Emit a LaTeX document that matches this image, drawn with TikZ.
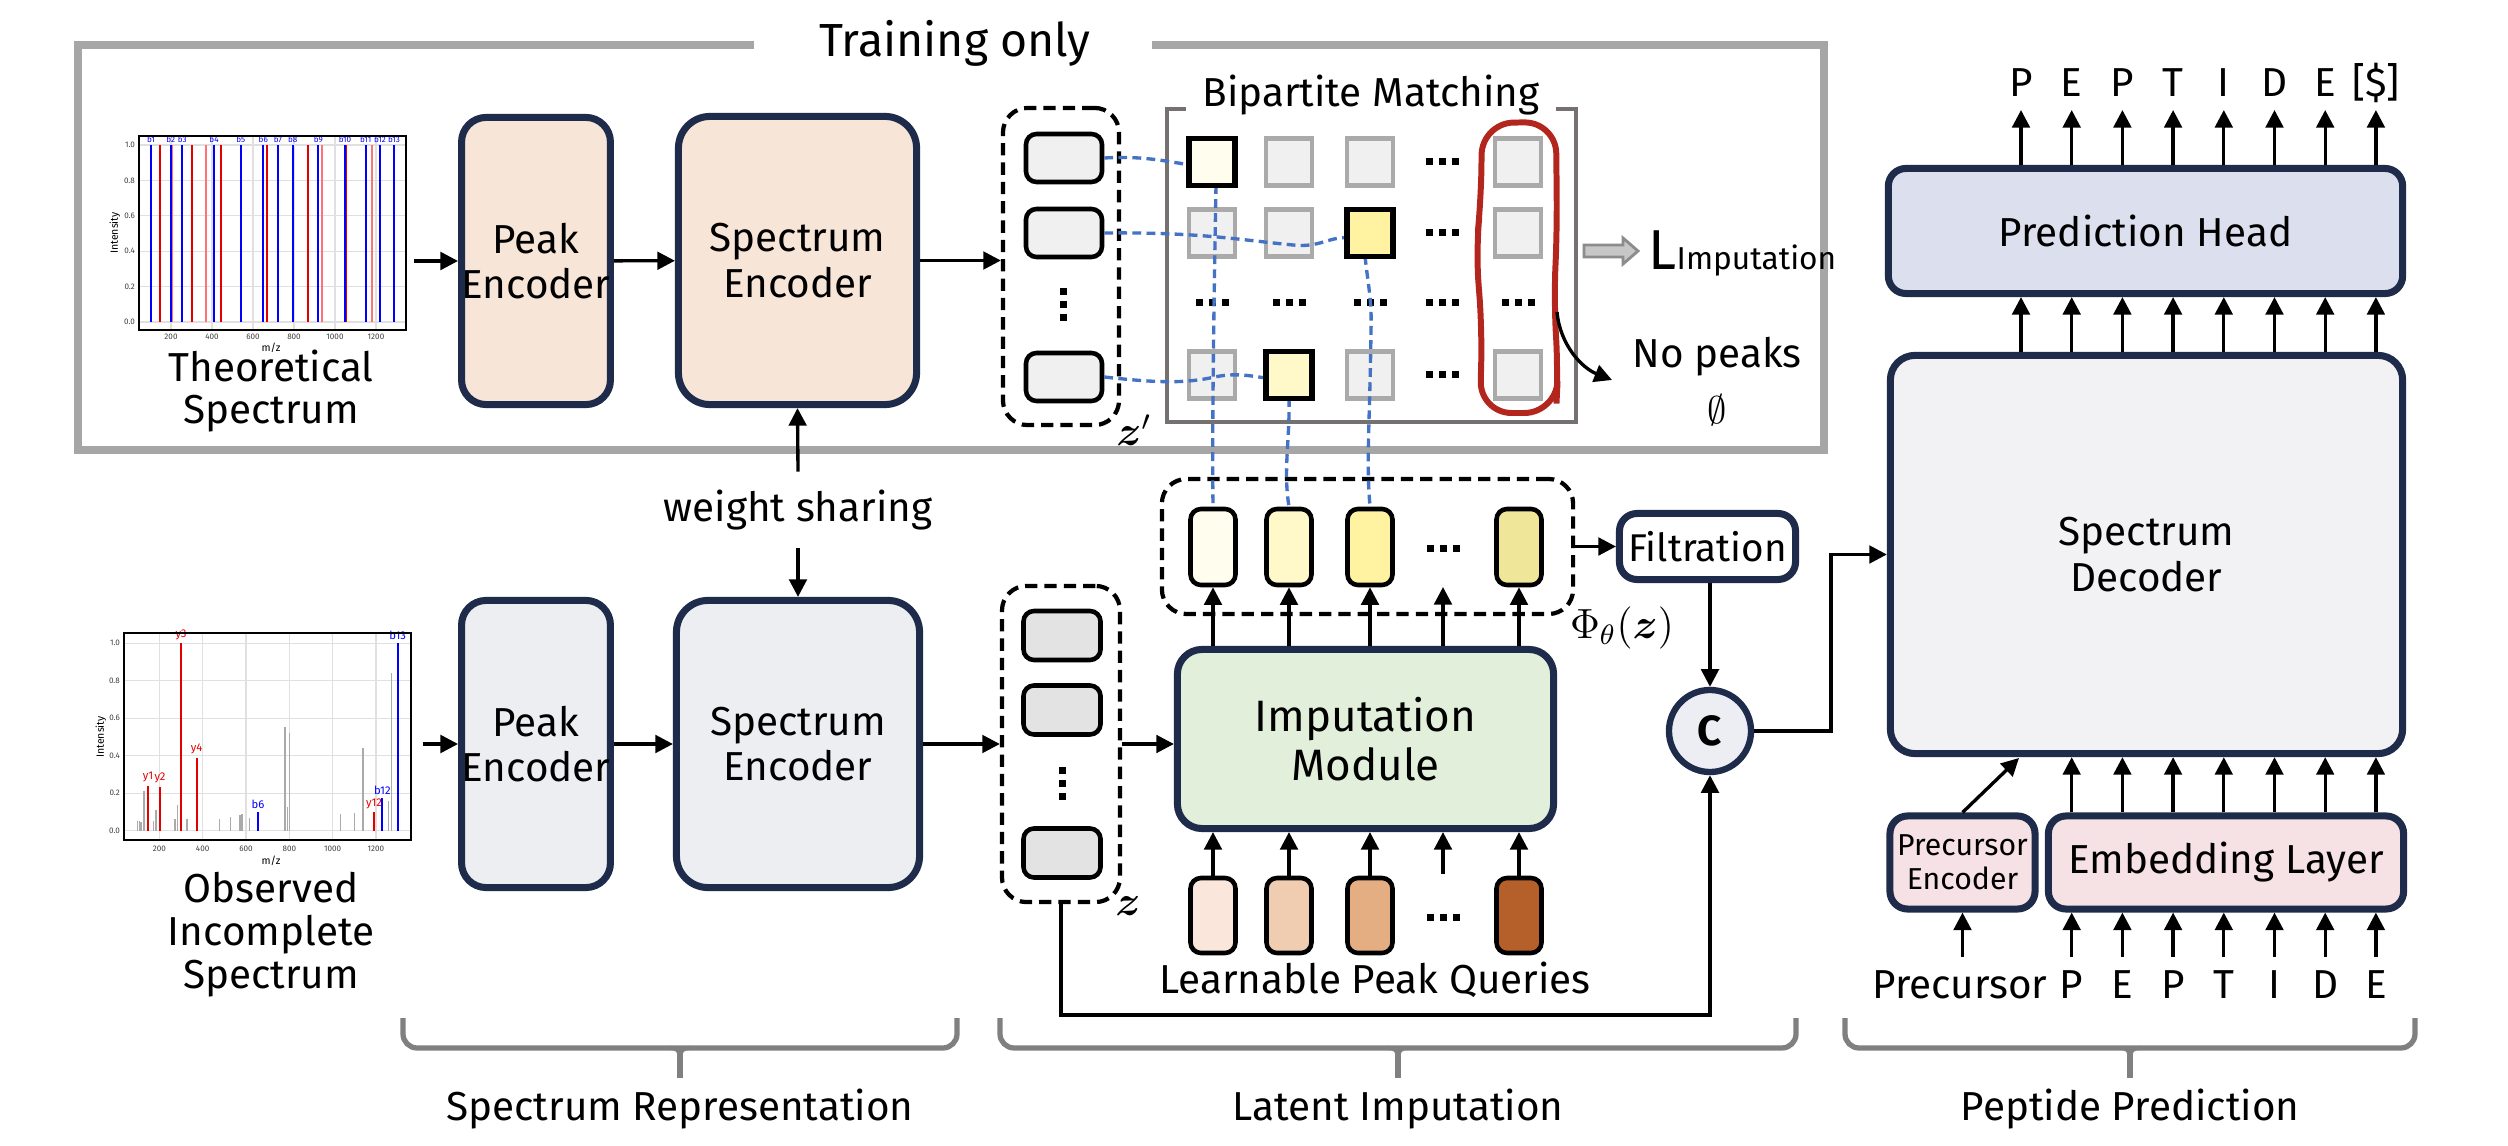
\documentclass[tikz,border=0pt]{standalone}
\usepackage{fontspec}
\setmainfont{Fira Sans}
\usepackage{amsmath}
\usetikzlibrary{arrows.meta}

\definecolor{navy}{HTML}{1F2B4A}
\definecolor{trainGray}{HTML}{A6A6A6}
\definecolor{bracketGray}{HTML}{767171}
\definecolor{braceGray}{HTML}{808080}
\definecolor{peach}{HTML}{F7E5D8}
\definecolor{slate}{HTML}{ECEEF2}
\definecolor{mint}{HTML}{E2EFDA}
\definecolor{decFill}{HTML}{F2F2F5}
\definecolor{headFill}{HTML}{DCDFEE}
\definecolor{rose}{HTML}{F6E1E4}
\definecolor{cFill}{HTML}{ECEEF4}
\definecolor{zTop}{HTML}{F0F0F0}
\definecolor{zBot}{HTML}{E3E3E3}
\definecolor{sqGray}{HTML}{F0F0F0}
\definecolor{sqEdge}{HTML}{AAAAAA}
\definecolor{linkBlue}{HTML}{4472C4}
\definecolor{outRed}{HTML}{B3261E}
\definecolor{phiA}{HTML}{FFFDEE}
\definecolor{phiB}{HTML}{FFF8C8}
\definecolor{phiC}{HTML}{FFF2A0}
\definecolor{phiD}{HTML}{F0E69A}
\definecolor{qA}{HTML}{FAE6DA}
\definecolor{qB}{HTML}{F0CDB0}
\definecolor{qC}{HTML}{E5AE82}
\definecolor{qD}{HTML}{B5602B}
\definecolor{specGray}{HTML}{AAAAAA}

\newcommand\mainsize{\fontsize{11.5}{13}\selectfont}
\newcommand\capsize{\fontsize{11.5}{12.2}\selectfont}
\newcommand\titlesize{\fontsize{13.2}{15}\selectfont}
\newcommand\impsize{\fontsize{12.5}{14}\selectfont}
\newcommand\precsize{\fontsize{8.6}{9.6}\selectfont}
\newcommand\mathsize{\fontsize{12}{14}\selectfont}
\newcommand\ticksize{\fontsize{2.3}{2.5}\selectfont}
\newcommand\axsize{\fontsize{3}{3.2}\selectfont}
\newcommand\ionsize{\fontsize{3.2}{3.4}\selectfont}

\tikzset{
  >={Triangle[length=5pt,width=5pt]},
  arr/.style={->, line width=0.95pt},
  blk/.style={draw=navy, line width=2pt, rounded corners=7pt, align=center, inner sep=0pt, font=\mainsize},
  vec/.style={draw=black, line width=1.3pt, rounded corners=3pt, inner sep=0pt},
  grp/.style={draw=black, line width=1.2pt, dash pattern=on 3.5pt off 2pt, rounded corners=7pt, inner sep=0pt},
  sq/.style={draw=sqEdge, line width=1.3pt, fill=sqGray, minimum width=0.46cm, minimum height=0.47cm, inner sep=0pt},
  link/.style={draw=linkBlue, line width=0.95pt, dash pattern=on 2.5pt off 1.5pt},
  trainframe/.style={draw=trainGray, line width=2.3pt},
  bracket/.style={draw=bracketGray, line width=1.3pt},
  phasebrace/.style={draw=braceGray, line width=1.5pt, rounded corners=4pt},
  gridln/.style={draw=black!12, line width=0.35pt},
  ticklbl/.style={font=\ticksize, inner sep=0.4pt, text=black!75},
  ionlbl/.style={font=\ionsize, inner sep=0.3pt, anchor=south},
  tok/.style={anchor=base, font=\mainsize, inner sep=3.5pt, text depth=0pt},
  hdots/.pic={\foreach \d in {-13,0,13} \fill (\d-3.5,-3.5) rectangle ++(7,7);},
  vdots/.pic={\foreach \d in {-13,0,13} \fill (-3.5,\d-3.5) rectangle ++(7,7);},
}

\begin{document}
\begin{tikzpicture}[x=0.01cm, y=-0.01cm]
\useasboundingbox (0,0) rectangle (2508,1146);

% training only frame
\draw[trainframe] (754,45) -- (78,45) -- (78,450) -- (1824,450) -- (1824,45) -- (1152,45);
\node[anchor=base, font=\titlesize] (train) at (955,57) {Training only};

% theoretical spectrum
\foreach \k in {0,...,5} \draw[gridln] (139,{322-35.4*\k}) -- (406,{322-35.4*\k});
\foreach \x in {171,212,253,294,335,376} \draw[gridln] (\x,136) -- (\x,330);
\foreach \x in {160,191.7,220.7,267.3,308,346} \draw[line width=0.5pt, red!90!black] (\x,322) -- (\x,145);
\foreach \x in {171.7,206,241.3,293.3,322.3,372} \draw[line width=0.6pt, red!55] (\x,322) -- (\x,145);
\foreach \x/\t in {151/b1,170.7/b2,182.3/b3,214/b4,240.7/b5,263.3/b6,278/b7,292.7/b8,318.3/b9,345/b10,365.7/b11,380/b12,394/b13}
  {\draw[line width=0.5pt, blue] (\x,322) -- (\x,145);
   \node[ticklbl, text=blue] (th\t) at (\x,140) {\t};}
\node[draw=black, line width=0.5pt, minimum width=2.67cm, minimum height=1.94cm, inner sep=0pt] (thPlot) at (272.5,233) {};
\foreach \k/\t in {0/0.0,1/0.2,2/0.4,3/0.6,4/0.8,5/1.0}
  \node[ticklbl, anchor=east] (thy\k) at (137,{322-35.4*\k}) {\t};
\foreach \x/\t in {171/200,212/400,253/600,294/800,335/1000,376/1200}
  \node[ticklbl] (thx\t) at (\x,337) {\t};
\node[font=\axsize, rotate=90] (thInt) at (115,233) {Intensity};
\node[font=\axsize] (thMz) at (271,348) {m/z};
\node[align=center, font=\capsize] (thCap) at (271,391) {Theoretical\\Spectrum};

% observed spectrum
\foreach \k in {0,...,5} \draw[gridln] (124,{830.7-37.48*\k}) -- (411,{830.7-37.48*\k});
\foreach \k in {0,...,5} \draw[gridln] ({159.3+43.33*\k},633) -- ({159.3+43.33*\k},840);
\foreach \x/\h in {137.7/.05,139.3/.05,141/.045,144/.21,153.3/.05,156/.11,175/.06,177.3/.135,187/.065,219.7/.06,230.3/.075,240/.085,242/.09,249.3/.07,285/.555,287.7/.125,289.7/.52,340.7/.09,354.7/.095,363/.44,388.3/.16,391.7/.84}
  \draw[line width=0.45pt, specGray] (\x,830.7) -- (\x,{830.7-187.4*\h});
\foreach \x/\h/\t in {148/.24/y1,160/.235/y2,181/1/y3,196.7/.39/y4,374/.10/y12}
  {\draw[line width=0.6pt, red!90!black] (\x,830.7) -- (\x,{830.7-187.4*\h});
   \node[ionlbl, text=red!90!black] (ob\t) at (\x,{829-187.4*\h}) {\t};}
\foreach \x/\h/\t in {258/.10/b6,382.3/.175/b12,397.7/1/b13}
  {\draw[line width=0.6pt, blue] (\x,830.7) -- (\x,{830.7-187.4*\h});
   \node[ionlbl, text=blue] (ob\t) at (\x,{829-187.4*\h}) {\t};}
\node[draw=black, line width=0.5pt, minimum width=2.87cm, minimum height=2.07cm, inner sep=0pt] (obPlot) at (267.5,736.5) {};
\foreach \k/\t in {0/0.0,1/0.2,2/0.4,3/0.6,4/0.8,5/1.0}
  \node[ticklbl, anchor=east] (oby\k) at (122,{830.7-37.48*\k}) {\t};
\foreach \k/\t in {0/200,1/400,2/600,3/800,4/1000,5/1200}
  \node[ticklbl] (obx\t) at ({159.3+43.33*\k},849) {\t};
\node[font=\axsize, rotate=90] (obInt) at (101,737) {Intensity};
\node[font=\axsize] (obMz) at (271,861) {m/z};
\node[align=center, font=\capsize] (obCap) at (271,934.5) {Observed\\Incomplete\\Spectrum};

% encoders
\node[blk, fill=peach, minimum width=1.47cm, minimum height=2.87cm] (pe1) at (536,261) {Peak\\Encoder};
\node[blk, fill=peach, minimum width=2.38cm, minimum height=2.88cm, rounded corners=9pt] (se1) at (797.5,260.5) {Spectrum\\Encoder};
\node[blk, fill=slate, minimum width=1.48cm, minimum height=2.87cm] (pe2) at (536,744) {Peak\\Encoder};
\node[blk, fill=slate, minimum width=2.43cm, minimum height=2.87cm, rounded corners=9pt] (se2) at (798,744) {Spectrum\\Encoder};
\node[font=\mainsize, inner sep=5pt] (ws) at (798,510) {weight sharing};
\draw[arr] (ws.north) -- (se1.south);
\draw[arr] (ws.south) -- (se2.north);

% latent groups z' and z
\node[grp, minimum width=1.16cm, minimum height=3.17cm] (zpBox) at (1061,266.5) {};
\foreach \i/\y in {1/158,2/233,3/377}
  \node[vec, fill=zTop, minimum width=0.76cm, minimum height=0.48cm] (zp\i) at (1064,\y) {};
\pic at (1063,305) {vdots};
\node[font=\mathsize] (zpLbl) at (1134,430) {$\boldsymbol{z}'$};

\node[grp, minimum width=1.18cm, minimum height=3.16cm] (zBox) at (1061,744) {};
\foreach \i/\y in {1/635.5,2/710,3/853}
  \node[vec, fill=zBot, minimum width=0.77cm, minimum height=0.49cm] (z\i) at (1062,\y) {};
\pic at (1062,783) {vdots};
\node[font=\mathsize] (zLbl) at (1128,906) {$\boldsymbol{z}$};

\draw[arr, shorten <=2pt] (thPlot.east |- pe1) -- (pe1);
\draw[arr] (pe1) -- (se1);
\draw[arr] (se1.east) -- (se1.east -| zpBox.west);
\draw[arr, shorten <=3pt] (obPlot.east |- pe2) -- (pe2);
\draw[arr] (pe2) -- (se2);
\draw[arr] (se2) -- (zBox);

% bipartite matching
\draw[bracket] (1186,109) -- (1167,109) -- (1167,422) -- (1576,422) -- (1576,109) -- (1556,109);
\node[anchor=base, font=\mainsize] (bipTitle) at (1371,107) {Bipartite Matching};
\foreach \r/\y in {1/162,2/233,4/375}
  \foreach \c/\x in {1/1212,2/1289,3/1370,5/1518}
    \node[sq] (s\r\c) at (\x,\y) {};
\foreach \y in {162,233,375} \pic at (1442,\y) {hdots};
\foreach \x in {1212,1289,1370,1442,1518} \pic at (\x,303) {hdots};
\draw[outRed, line width=1.7pt, rounded corners=9pt] (1481,200) -- (1482,123) -- (1556,122) -- (1557,230)
  -- (1554,300) -- (1558,372) -- (1556,413) -- (1480,413) -- (1482,330) -- (1476,250) -- cycle;

% Phi group
\node[grp, minimum width=4.11cm, minimum height=1.35cm] (phiBox) at (1367.5,546.5) {};
\foreach \i/\x/\c in {1/1213/phiA,2/1289/phiB,3/1370/phiC,4/1519/phiD}
  \node[vec, fill=\c, minimum width=0.45cm, minimum height=0.76cm] (phi\i) at (\x,547) {};
\pic at (1443,549) {hdots};
\coordinate (phiDots) at (1443,587);
\node[font=\mathsize] (phiLbl) at (1622,628) {$\Phi_\theta(\boldsymbol{z})$};

% matching links
\draw[link] (zp1.east) .. controls (1140,156) and (1160,160) .. (1190,165);
\draw[link] (zp2.east) .. controls (1200,232) and (1240,240) .. (1293,245) .. controls (1320,248) and (1330,236) .. (1348,238);
\draw[link] (zp3.east) .. controls (1150,382) and (1180,384) .. (1210,378) .. controls (1235,372) and (1250,376) .. (1266,378);
\draw[link] (1216,185) .. controls (1214,300) and (1212,420) .. (phi1.north);
\draw[link] (1289,398) .. controls (1290,440) and (1283,470) .. (phi2.north);
\draw[link] (1365,256) .. controls (1368,285) and (1372,300) .. (1371,330) .. controls (1370,420) and (1366,460) .. (phi3.north);
\node[sq, draw=black, line width=1.5pt, fill=phiA] (m11) at (1212,162) {};
\node[sq, draw=black, line width=1.5pt, fill=phiC] (m23) at (1370,233) {};
\node[sq, draw=black, line width=1.5pt, fill=phiB] (m42) at (1289,375) {};

% loss and unmatched
\draw[fill=black!22, draw=black!45, line width=0.8pt] (1584,245) -- (1623,245) -- (1623,238) -- (1638,251)
  -- (1623,264) -- (1623,257) -- (1584,257) -- cycle;
\node[anchor=base west, inner sep=0pt] (loss) at (1648,270) {{\fontsize{16}{16}\selectfont L}{\fontsize{9}{10}\selectfont Imputation}};
\node[anchor=base, font=\mainsize, inner sep=0pt] (nopk) at (1717,368) {No peaks};
\node[anchor=base, font=\fontsize{11}{11}\selectfont, inner sep=0pt] (empty) at (1717,424) {$\emptyset$};
\coordinate (redOut) at (1557,312);
\coordinate (nopkIn) at (1612,380);
\draw[arr] (redOut) .. controls (1560,345) and (1582,368) .. (nopkIn);

% imputation module
\node[blk, fill=mint, minimum width=3.76cm, minimum height=1.79cm, font=\impsize] (imp) at (1365.5,739) {Imputation\\Module};
\foreach \i/\x/\c in {1/1213/qA,2/1289/qB,3/1370/qC,4/1519/qD}
  \node[vec, fill=\c, minimum width=0.45cm, minimum height=0.75cm] (q\i) at (\x,915.5) {};
\pic at (1443,917) {hdots};
\coordinate (qDots) at (1443,874);
\node[anchor=base, font=\mainsize] (qLbl) at (1375,993) {Learnable Peak Queries};
\foreach \n in {phi1,phi2,phi3,phiDots,phi4} \draw[arr] (imp.north -| \n) -- (\n.south);
\foreach \n in {q1,q2,q3,qDots,q4} \draw[arr] (\n.north) -- (imp.south -| \n);
\draw[arr] (zBox.east) -- (zBox.east -| imp.west);

% filtration and concat
\node[blk, fill=white, minimum width=1.76cm, minimum height=0.66cm, rounded corners=5pt, font=\fontsize{11}{12}\selectfont] (filt) at (1707.5,546.5) {Filtration};
\draw[arr] (phiBox.east) -- (filt.west);
\node[circle, draw=navy, line width=1.8pt, fill=cFill, minimum size=0.82cm, inner sep=0pt, font=\fontsize{12}{12}\selectfont\bfseries] (cc) at (1710,731) {C};
\draw[arr] (filt.south -| cc) -- (cc.north);
\coordinate (zLow) at (1061,1015);
\draw[arr] (zBox.south) -- (zLow) -| (cc.south);

% peptide prediction
\node[blk, fill=decFill, minimum width=5.12cm, minimum height=3.98cm] (dec) at (2146.5,554.5) {Spectrum\\Decoder};
\node[blk, fill=headFill, minimum width=5.14cm, minimum height=1.25cm, rounded corners=5pt] (head) at (2145.5,231) {Prediction Head};
\node[blk, fill=rose, minimum width=1.45cm, minimum height=0.93cm, rounded corners=5pt, font=\precsize] (pre) at (1962.5,862.5) {Precursor\\Encoder};
\node[blk, fill=rose, minimum width=3.55cm, minimum height=0.93cm, rounded corners=5pt] (emb) at (2226,862.5) {Embedding Layer};
\coordinate (decBend) at (1831,554.5);
\draw[arr] (cc.east) -| (decBend) -- (dec.west);

\foreach \t [count=\i] in {P,E,P,T,I,D,E,{[\$]}}
  \node[tok] (out\i) at ({2021+50.7*(\i-1)},97) {\t};
\foreach \i in {1,...,8}
  {\draw[arr] (dec.north -| out\i) -- (head.south -| out\i);
   \draw[arr] (head.north -| out\i) -- (out\i.south);}
\foreach \t [count=\i from 2] in {P,E,P,T,I,D,E}
  \node[tok] (in\i) at ({2021+50.7*(\i-1)},998) {\t};
\foreach \i in {2,...,8}
  {\draw[arr] (in\i.north) -- (emb.south -| in\i);
   \draw[arr] (emb.north -| in\i) -- (dec.south -| in\i);}
\node[tok] (precIn) at (1960,998) {Precursor};
\draw[arr] (pre.south |- precIn.north) -- (pre.south);
\coordinate (decIn) at (2019,758);
\draw[arr] (pre.north) -- (decIn);

% stage braces
\foreach \l/\m/\r/\t in {403/680/957/Spectrum Representation,1000/1398/1796/Latent Imputation,1845/2130/2415/Peptide Prediction}
  {\draw[phasebrace] (\l,1018) -- (\l,1048) -- (\r,1048) -- (\r,1018);
   \draw[draw=braceGray, line width=1.5pt] (\m,1048) -- (\m,1078);
   \draw[draw=braceGray, line width=1.2pt] (\m-11,1048) .. controls (\m-2,1048) and (\m,1050) .. (\m,1060);
   \draw[draw=braceGray, line width=1.2pt] (\m+11,1048) .. controls (\m+2,1048) and (\m,1050) .. (\m,1060);
   \node[anchor=base, font=\mainsize] (cap\m) at (\m,1120) {\t};}
\end{tikzpicture}
\end{document}
